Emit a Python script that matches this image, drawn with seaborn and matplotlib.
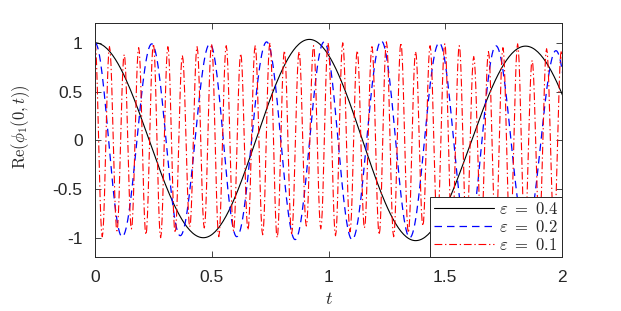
import numpy as np
import pandas as pd
import matplotlib
matplotlib.use("Agg")
import matplotlib.pyplot as plt
import seaborn as sns

# ==========================================
# Turning points
# ==========================================

# eps = 0.4 (black)
black_t = [0.000, 0.464, 0.918, 1.373, 1.844, 2.310]
black_v = [1.00, -1.00, 1.035, -1.03, 0.966, -0.98]

# eps = 0.2 (blue)
blue_t = [0.000, 0.116, 0.243, 0.365, 0.492, 0.607, 0.735, 0.857, 0.981,
          1.101, 1.226, 1.348, 1.474, 1.597, 1.717, 1.845, 1.974, 2.097]
blue_v = [1.00, -0.99, 0.99, -0.98, 0.99, -0.99, 1.01, -1.02, 1.01,
          -1.02, 1.02, -1.00, 1.00, -0.98, 0.97, -0.95, 0.92, -0.90]

# eps = 0.1 (red), peaks and troughs
red_peak_t = [0.000, 0.062, 0.125, 0.187, 0.250, 0.312, 0.374, 0.437, 0.499,
              0.562, 0.624, 0.686, 0.749, 0.811, 0.874, 0.936, 0.998, 1.061,
              1.123, 1.186, 1.248, 1.310, 1.373, 1.435, 1.498, 1.560, 1.622,
              1.685, 1.747, 1.810, 1.872, 1.934, 1.997]
red_peak_v = [1.00, 0.96, 0.88, 0.95, 0.99, 0.96, 0.87, 0.96, 0.99,
              0.97, 0.89, 0.97, 1.00, 0.92, 0.91, 0.97, 1.00, 1.00,
              0.92, 0.96, 1.01, 1.00, 0.91, 0.97, 0.99, 0.97, 0.86,
              0.91, 0.95, 0.99, 0.82, 0.94, 0.92]
red_trough_t = [0.031, 0.094, 0.156, 0.218, 0.281, 0.343, 0.406, 0.468, 0.530,
                0.593, 0.655, 0.718, 0.780, 0.842, 0.905, 0.967, 1.030, 1.092,
                1.154, 1.217, 1.279, 1.342, 1.404, 1.466, 1.529, 1.591, 1.654,
                1.716, 1.778, 1.841, 1.903, 1.966, 2.028]
red_trough_v = [-0.99, -0.93, -0.91, -0.97, -1.00, -0.95, -0.89, -0.90, -0.99,
                -0.93, -0.92, -0.97, -1.00, -0.96, -0.88, -0.91, -0.98, -0.94,
                -0.90, -0.97, -0.99, -0.95, -0.88, -0.87, -0.97, -0.93, -0.90,
                -0.96, -0.99, -0.94, -0.88, -0.90, -0.98]

labels = [r"$\varepsilon\ =\ 0.4$", r"$\varepsilon\ =\ 0.2$", r"$\varepsilon\ =\ 0.1$"]
x_ticks = [0, 0.5, 1, 1.5, 2]
x_ticklabels = ["0", "0.5", "1", "1.5", "2"]
y_ticks = [-1, -0.5, 0, 0.5, 1]
y_ticklabels = ["-1", "-0.5", "0", "0.5", "1"]


def smooth_through(tk, vk, n=24):
    # half-cosine easing between consecutive turning points
    ts, vs = [], []
    for i in range(len(tk) - 1):
        s = np.linspace(0, 1, n, endpoint=False)
        ts.append(tk[i] + (tk[i + 1] - tk[i]) * s)
        vs.append(vk[i] + (vk[i + 1] - vk[i]) * (1 - np.cos(np.pi * s)) / 2)
    ts.append([tk[-1]])
    vs.append([vk[-1]])
    return np.concatenate(ts), np.concatenate(vs)


red = pd.DataFrame({"t": red_peak_t + red_trough_t,
                    "v": red_peak_v + red_trough_v}).sort_values("t")

bt, bv = smooth_through(black_t, black_v, 80)
ut, uv = smooth_through(blue_t, blue_v, 30)
rt, rv = smooth_through(red["t"].tolist(), red["v"].tolist(), 10)

# ==========================================
# Plot
# ==========================================

sns.set_style("ticks")
plt.rcParams["font.family"] = ["Liberation Sans", "DejaVu Sans"]
plt.rcParams["mathtext.fontset"] = "cm"
plt.rcParams["axes.unicode_minus"] = False

dark = (0.15, 0.15, 0.15)

fig = plt.figure(figsize=(6.21, 3.11), dpi=100)
ax = fig.add_axes([0.153, 0.173, 0.752, 0.752])

sns.lineplot(x=bt, y=bv, ax=ax, color="black", linewidth=0.8,
             sort=False, estimator=None, label=labels[0])
sns.lineplot(x=ut, y=uv, ax=ax, color="blue", linewidth=0.9,
             linestyle=(0, (6, 4)), sort=False, estimator=None, label=labels[1])
sns.lineplot(x=rt, y=rv, ax=ax, color="red", linewidth=0.8,
             linestyle=(0, (7, 2.5, 1.2, 2.5)), sort=False, estimator=None,
             label=labels[2])

ax.set_xlim(0, 2)
ax.set_ylim(-1.2, 1.2)
ax.set_xticks(x_ticks)
ax.set_xticklabels(x_ticklabels)
ax.set_yticks(y_ticks)
ax.set_yticklabels(y_ticklabels)

ax.tick_params(direction="in", length=4, width=0.6, colors=dark,
               labelsize=12.5, top=True, right=True, pad=9)
for sp in ax.spines.values():
    sp.set_visible(True)
    sp.set_color(dark)
    sp.set_linewidth(0.7)

ax.set_xlabel(r"$t$", fontsize=13, color=dark)
ax.set_ylabel(r"$\mathrm{Re}(\phi_1(0,t))$", fontsize=12, color=dark)
ax.xaxis.set_label_coords(0.5, -0.145)
ax.yaxis.set_label_coords(-0.135, 0.56)

leg = ax.legend(loc="lower right", borderaxespad=0, fancybox=False,
                framealpha=1, edgecolor=dark, fontsize=12,
                handlelength=3.6, handletextpad=0.3, labelspacing=0.12,
                borderpad=0.25)
leg.get_frame().set_linewidth(0.7)

plt.savefig("out.png", dpi=100)
